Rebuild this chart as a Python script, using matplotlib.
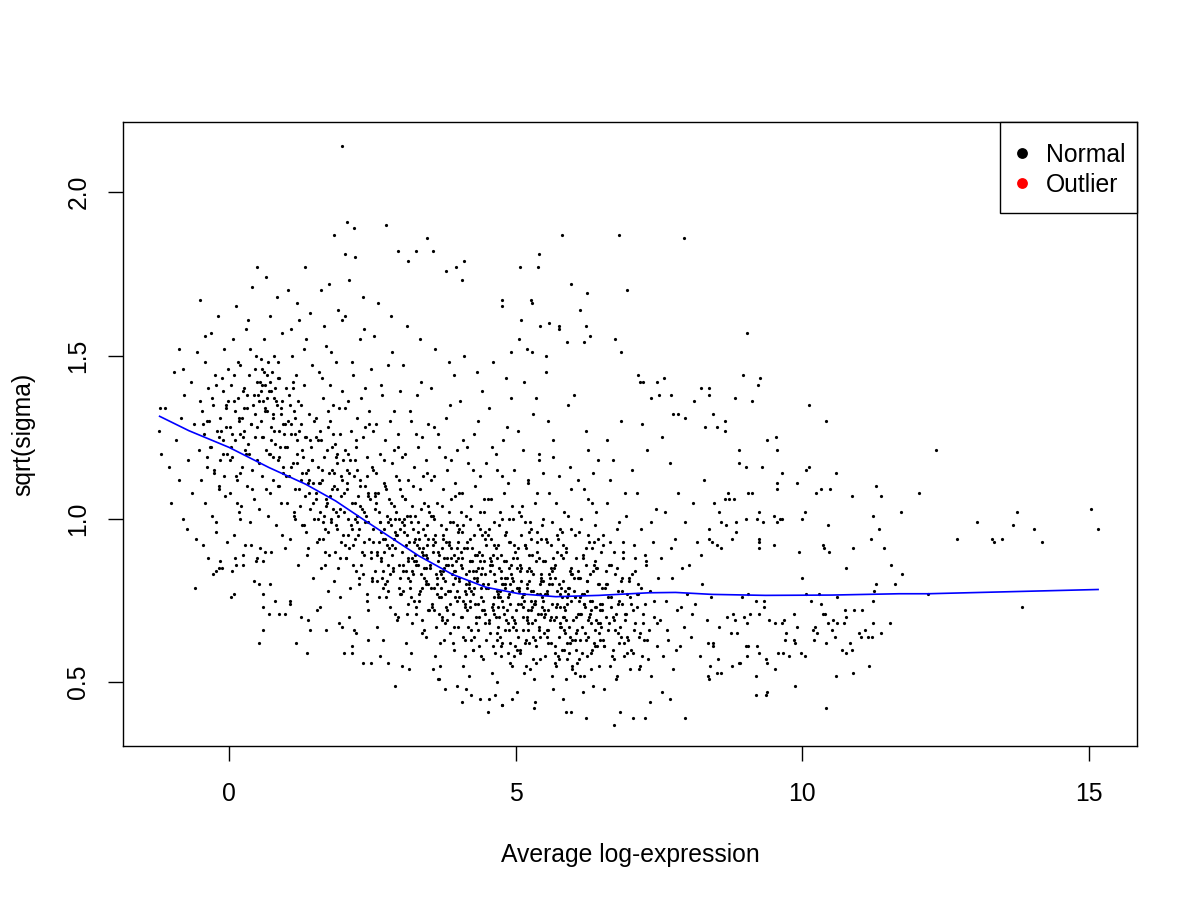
import matplotlib
matplotlib.use("Agg")
from matplotlib import pyplot as plt
from matplotlib.patches import Rectangle

plt.rcParams["font.family"] = ["Liberation Sans", "DejaVu Sans"]

# Dense part of the cloud (average log-expression, sqrt(sigma)), read strip by strip
cloud_x = [
    -1.22, -1.18, -1.12, -1.05, -1.01, -0.96, -0.93, -0.88, -0.84, -0.81,
    -0.78, -0.74, -0.71, -0.67, -0.64, -0.61, -0.58, -0.55, -0.53, -0.51,
    -0.49, -0.47, -0.46, -0.44, -0.42, -0.41, -0.39, -0.37, -0.36, -0.34,
    -0.33, -0.31, -0.29, -0.28, -0.26, -0.24, -0.23, -0.21, -0.19, -0.18,
    -0.16, -0.15, -0.13, -0.11, -0.10, -0.08, -0.07, -0.05, -0.04, -0.02,
    -0.45, -0.38, -0.30, -0.22, -0.17, -0.12, -0.09, -0.06, -0.03, -0.01,
    0.01, 0.02, 0.04, 0.05, 0.07, 0.08, 0.10, 0.11, 0.13, 0.14,
    0.16, 0.17, 0.19, 0.20, 0.22, 0.23, 0.25, 0.26, 0.28, 0.29,
    0.31, 0.32, 0.34, 0.35, 0.37, 0.38, 0.40, 0.41, 0.43, 0.44,
    0.46, 0.47, 0.49, 0.03, 0.09, 0.15, 0.21, 0.27, 0.33, 0.39,
    0.45, 0.06, 0.12, 0.18, 0.24, 0.30, 0.36, 0.42, 0.48, 0.20,
    0.51, 0.52, 0.54, 0.55, 0.57, 0.58, 0.60, 0.61, 0.63, 0.64,
    0.66, 0.67, 0.69, 0.70, 0.72, 0.73, 0.75, 0.76, 0.78, 0.79,
    0.81, 0.82, 0.84, 0.85, 0.87, 0.88, 0.90, 0.91, 0.93, 0.94,
    0.96, 0.97, 0.99, 0.53, 0.59, 0.65, 0.71, 0.77, 0.83, 0.89,
    0.95, 0.56, 0.62, 0.68, 0.74, 0.80, 0.86, 0.92, 0.98, 0.64,
    0.72, 0.85, 0.58, 0.93, 0.77,
    1.01, 1.02, 1.04, 1.05, 1.07, 1.08, 1.10, 1.11, 1.13, 1.14,
    1.16, 1.17, 1.19, 1.20, 1.22, 1.23, 1.25, 1.26, 1.28, 1.29,
    1.31, 1.32, 1.34, 1.35, 1.37, 1.38, 1.40, 1.41, 1.43, 1.44,
    1.46, 1.47, 1.49, 1.03, 1.09, 1.15, 1.21, 1.27, 1.33, 1.39,
    1.45, 1.06, 1.12, 1.18, 1.24, 1.30, 1.36, 1.42, 1.48, 1.15,
    1.26, 1.40, 1.08, 1.34, 1.19,
    1.51, 1.52, 1.54, 1.55, 1.57, 1.58, 1.60, 1.61, 1.63, 1.64,
    1.66, 1.67, 1.69, 1.70, 1.72, 1.73, 1.75, 1.76, 1.78, 1.79,
    1.81, 1.82, 1.84, 1.85, 1.87, 1.88, 1.90, 1.91, 1.93, 1.94,
    1.96, 1.97, 1.99, 1.53, 1.59, 1.65, 1.71, 1.77, 1.83, 1.89,
    1.95, 1.56, 1.62, 1.68, 1.74, 1.80, 1.86, 1.92, 1.98, 1.60,
    1.70, 1.85, 1.57, 1.93, 1.78, 1.64, 1.88, 1.52, 1.99, 1.73,
    2.01, 2.02, 2.04, 2.05, 2.07, 2.08, 2.10, 2.11, 2.13, 2.14,
    2.16, 2.17, 2.19, 2.20, 2.22, 2.23, 2.25, 2.26, 2.28, 2.29,
    2.31, 2.32, 2.34, 2.35, 2.37, 2.38, 2.40, 2.41, 2.43, 2.44,
    2.46, 2.47, 2.49, 2.03, 2.09, 2.15, 2.21, 2.27, 2.33, 2.39,
    2.45, 2.06, 2.12, 2.18, 2.24, 2.30, 2.36, 2.42, 2.48, 2.10,
    2.20, 2.35, 2.07, 2.43, 2.28, 2.14, 2.38, 2.02, 2.49, 2.23,
    2.51, 2.52, 2.54, 2.55, 2.57, 2.58, 2.60, 2.61, 2.63, 2.64,
    2.66, 2.67, 2.69, 2.70, 2.72, 2.73, 2.75, 2.76, 2.78, 2.79,
    2.81, 2.82, 2.84, 2.85, 2.87, 2.88, 2.90, 2.91, 2.93, 2.94,
    2.96, 2.97, 2.99, 2.53, 2.59, 2.65, 2.71, 2.77, 2.83, 2.89,
    2.95, 2.56, 2.62, 2.68, 2.74, 2.80, 2.86, 2.92, 2.98, 2.60,
    2.70, 2.85, 2.57, 2.93, 2.78, 2.64, 2.88, 2.52, 2.99, 2.73,
    2.55, 2.67, 2.81, 2.90, 2.97,
    3.01, 3.02, 3.04, 3.05, 3.07, 3.08, 3.10, 3.11, 3.13, 3.14,
    3.16, 3.17, 3.19, 3.20, 3.22, 3.23, 3.25, 3.26, 3.28, 3.29,
    3.31, 3.32, 3.34, 3.35, 3.37, 3.38, 3.40, 3.41, 3.43, 3.44,
    3.46, 3.47, 3.49, 3.03, 3.09, 3.15, 3.21, 3.27, 3.33, 3.39,
    3.45, 3.06, 3.12, 3.18, 3.24, 3.30, 3.36, 3.42, 3.48, 3.10,
    3.20, 3.35, 3.07, 3.43, 3.28, 3.14, 3.38, 3.02, 3.49, 3.23,
    3.05, 3.17, 3.31, 3.40, 3.47, 3.12, 3.26, 3.36, 3.21, 3.44,
    3.51, 3.52, 3.54, 3.55, 3.57, 3.58, 3.60, 3.61, 3.63, 3.64,
    3.66, 3.67, 3.69, 3.70, 3.72, 3.73, 3.75, 3.76, 3.78, 3.79,
    3.81, 3.82, 3.84, 3.85, 3.87, 3.88, 3.90, 3.91, 3.93, 3.94,
    3.96, 3.97, 3.99, 3.53, 3.59, 3.65, 3.71, 3.77, 3.83, 3.89,
    3.95, 3.56, 3.62, 3.68, 3.74, 3.80, 3.86, 3.92, 3.98, 3.60,
    3.70, 3.85, 3.57, 3.93, 3.78, 3.64, 3.88, 3.52, 3.99, 3.73,
    3.55, 3.67, 3.81, 3.90, 3.97, 3.62, 3.76, 3.86, 3.71, 3.94,
    3.58, 3.68, 3.83, 3.92, 3.75,
    4.01, 4.02, 4.04, 4.05, 4.07, 4.08, 4.10, 4.11, 4.13, 4.14,
    4.16, 4.17, 4.19, 4.20, 4.22, 4.23, 4.25, 4.26, 4.28, 4.29,
    4.31, 4.32, 4.34, 4.35, 4.37, 4.38, 4.40, 4.41, 4.43, 4.44,
    4.46, 4.47, 4.49, 4.03, 4.09, 4.15, 4.21, 4.27, 4.33, 4.39,
    4.45, 4.06, 4.12, 4.18, 4.24, 4.30, 4.36, 4.42, 4.48, 4.10,
    4.20, 4.35, 4.07, 4.43, 4.28, 4.14, 4.38, 4.02, 4.49, 4.23,
    4.05, 4.17, 4.31, 4.40, 4.47, 4.12, 4.26, 4.36, 4.21, 4.44,
    4.08, 4.18, 4.33, 4.42, 4.25,
    4.51, 4.52, 4.54, 4.55, 4.57, 4.58, 4.60, 4.61, 4.63, 4.64,
    4.66, 4.67, 4.69, 4.70, 4.72, 4.73, 4.75, 4.76, 4.78, 4.79,
    4.81, 4.82, 4.84, 4.85, 4.87, 4.88, 4.90, 4.91, 4.93, 4.94,
    4.96, 4.97, 4.99, 4.53, 4.59, 4.65, 4.71, 4.77, 4.83, 4.89,
    4.95, 4.56, 4.62, 4.68, 4.74, 4.80, 4.86, 4.92, 4.98, 4.60,
    4.70, 4.85, 4.57, 4.93, 4.78, 4.64, 4.88, 4.52, 4.99, 4.73,
    4.55, 4.67, 4.81, 4.90, 4.97, 4.62, 4.76, 4.86, 4.71, 4.94,
    4.58, 4.68, 4.83, 4.92, 4.75,
    5.01, 5.03, 5.04, 5.06, 5.07, 5.09, 5.10, 5.12, 5.13, 5.15,
    5.16, 5.18, 5.19, 5.21, 5.22, 5.24, 5.25, 5.27, 5.28, 5.30,
    5.31, 5.33, 5.34, 5.36, 5.37, 5.39, 5.40, 5.42, 5.43, 5.45,
    5.46, 5.48, 5.49, 5.02, 5.08, 5.14, 5.20, 5.26, 5.32, 5.38,
    5.44, 5.05, 5.11, 5.17, 5.23, 5.29, 5.35, 5.41, 5.47, 5.13,
    5.24, 5.36, 5.08, 5.42, 5.28, 5.19, 5.47, 5.03, 5.33, 5.11,
    5.06, 5.18, 5.31, 5.40, 5.49, 5.15, 5.26, 5.38, 5.21, 5.44,
    5.09, 5.27, 5.34, 5.46, 5.22,
    5.51, 5.52, 5.54, 5.55, 5.57, 5.58, 5.60, 5.61, 5.63, 5.64,
    5.66, 5.67, 5.69, 5.70, 5.72, 5.73, 5.75, 5.76, 5.78, 5.79,
    5.81, 5.82, 5.84, 5.85, 5.87, 5.88, 5.90, 5.91, 5.93, 5.94,
    5.96, 5.97, 5.99, 5.53, 5.59, 5.65, 5.71, 5.77, 5.83, 5.89,
    5.95, 5.56, 5.62, 5.68, 5.74, 5.80, 5.86, 5.92, 5.98, 5.64,
    5.72, 5.85, 5.57, 5.93, 5.78, 5.66, 5.88, 5.52, 5.99, 5.81,
    5.55, 5.69, 5.83, 5.90, 5.97, 5.61, 5.75, 5.86, 5.70, 5.94,
    6.01, 6.03, 6.04, 6.06, 6.08, 6.09, 6.11, 6.13, 6.14, 6.16,
    6.18, 6.19, 6.21, 6.23, 6.24, 6.26, 6.28, 6.29, 6.31, 6.33,
    6.34, 6.36, 6.38, 6.39, 6.41, 6.43, 6.44, 6.46, 6.48, 6.49,
    6.02, 6.07, 6.12, 6.17, 6.22, 6.27, 6.32, 6.37, 6.42, 6.47,
    6.05, 6.10, 6.15, 6.20, 6.25, 6.30, 6.35, 6.40, 6.45, 6.50,
    6.12, 6.26, 6.38, 6.04, 6.19, 6.31, 6.44, 6.08, 6.23, 6.35,
    6.51, 6.53, 6.55, 6.57, 6.59, 6.61, 6.63, 6.65, 6.67, 6.69,
    6.71, 6.73, 6.75, 6.77, 6.79, 6.81, 6.83, 6.85, 6.87, 6.89,
    6.91, 6.93, 6.95, 6.97, 6.99, 6.52, 6.58, 6.64, 6.70, 6.76,
    6.82, 6.88, 6.94, 6.54, 6.60, 6.66, 6.72, 6.78, 6.84, 6.90,
    6.96, 6.56, 6.68, 6.80, 6.86,
    7.01, 7.04, 7.06, 7.09, 7.12, 7.14, 7.17, 7.19, 7.22, 7.24,
    7.27, 7.29, 7.32, 7.34, 7.37, 7.39, 7.42, 7.44, 7.47, 7.49,
    7.03, 7.11, 7.16, 7.21, 7.26, 7.31, 7.36, 7.41, 7.46, 7.08,
    7.51, 7.54, 7.57, 7.60, 7.63, 7.66, 7.69, 7.72, 7.75, 7.78,
    7.81, 7.84, 7.87, 7.90, 7.93, 7.96, 7.99, 7.56, 7.64, 7.71,
    7.79, 7.88,
    8.02, 8.06, 8.10, 8.13, 8.17, 8.21, 8.25, 8.29, 8.33, 8.37,
    8.41, 8.45, 8.08, 8.24, 8.39,
]
cloud_y = [
    1.27, 1.20, 1.34, 1.16, 1.05, 1.45, 1.24, 1.12, 1.31, 1.00,
    1.38, 0.97, 1.18, 1.42, 1.08, 1.29, 0.94, 1.51, 1.21, 1.36,
    1.12, 1.33, 0.92, 1.26, 1.48, 1.05, 1.19, 1.40, 0.88, 1.30,
    1.22, 1.57, 1.01, 1.35, 1.14, 1.44, 0.96, 1.27, 1.62, 1.09,
    1.31, 1.18, 0.85, 1.39, 1.24, 1.52, 1.07, 1.34, 1.20, 1.46,
    1.29, 1.16, 1.37, 0.99, 1.25, 1.43, 1.13, 1.28, 0.93, 1.36,
    1.28, 1.08, 1.41, 1.19, 1.55, 0.95, 1.33, 1.24, 1.65, 1.12,
    1.37, 1.02, 1.26, 1.47, 1.16, 1.31, 0.89, 1.40, 1.21, 1.58,
    1.10, 1.34, 1.23, 1.44, 0.99, 1.29, 1.71, 1.15, 1.38, 1.06,
    1.32, 1.50, 1.18, 1.22, 1.36, 1.48, 1.04, 1.27, 1.61, 0.92,
    1.25, 0.84, 1.13, 1.30, 1.39, 1.20, 1.52, 1.35, 1.42, 1.00,
    1.38, 1.17, 1.42, 1.30, 1.46, 1.25, 1.36, 1.55, 1.41, 1.09,
    1.33, 1.44, 1.20, 1.39, 1.62, 1.28, 1.45, 1.12, 1.37, 1.50,
    1.23, 0.98, 1.35, 1.18, 1.43, 1.27, 1.05, 1.32, 1.57, 1.14,
    1.26, 0.91, 1.40, 1.03, 0.87, 1.21, 1.08, 1.31, 1.68, 1.22,
    1.16, 1.49, 1.34, 1.01, 1.24, 1.40, 1.10, 0.95, 1.29, 1.74,
    0.80, 1.48, 1.13, 1.36, 1.19,
    1.22, 1.05, 1.38, 1.13, 0.94, 1.29, 1.50, 1.17, 1.01, 1.33,
    1.09, 1.44, 1.20, 0.86, 1.27, 1.61, 1.12, 1.35, 0.98, 1.19,
    1.41, 1.07, 1.25, 1.55, 1.15, 0.91, 1.32, 1.03, 1.22, 1.47,
    1.11, 0.82, 1.30, 1.70, 1.26, 1.00, 1.36, 1.14, 1.77, 1.08,
    1.18, 0.75, 1.42, 1.24, 1.04, 1.52, 0.89, 1.63, 1.00, 1.31,
    0.70, 1.12, 1.58, 0.96, 1.66,
    1.08, 1.31, 0.93, 1.16, 1.45, 1.02, 1.24, 0.85, 1.12, 1.37,
    1.19, 0.97, 1.53, 1.06, 1.28, 0.78, 1.14, 1.41, 0.99, 1.22,
    1.03, 1.35, 1.10, 0.90, 1.48, 1.17, 1.64, 1.01, 1.26, 0.88,
    1.13, 1.39, 0.95, 0.72, 1.27, 1.59, 1.05, 1.30, 0.81, 1.20,
    1.07, 1.00, 1.43, 0.86, 1.72, 1.15, 0.98, 1.34, 1.61, 1.70,
    0.66, 1.23, 1.11, 0.76, 1.51, 0.94, 1.09, 1.25, 1.18, 1.33,
    1.02, 1.21, 0.88, 1.09, 1.36, 0.95, 1.14, 0.79, 1.27, 1.05,
    0.92, 1.44, 1.00, 1.18, 0.84, 1.31, 1.07, 0.97, 1.55, 1.12,
    0.86, 1.03, 1.25, 0.93, 1.40, 1.10, 0.75, 1.19, 0.99, 1.33,
    1.06, 0.90, 1.16, 1.62, 0.70, 1.48, 1.24, 0.82, 1.68, 1.01,
    1.29, 1.11, 0.98, 0.66, 1.15, 1.37, 0.89, 1.08, 1.46, 1.73,
    0.94, 1.58, 1.20, 0.72, 1.04, 0.61, 1.28, 1.34, 0.81, 0.99,
    0.97, 1.15, 0.84, 1.03, 1.29, 0.90, 1.08, 0.76, 1.20, 0.99,
    0.87, 1.38, 0.94, 1.11, 0.80, 1.24, 1.01, 0.92, 1.47, 1.06,
    0.83, 0.98, 1.17, 0.89, 1.33, 1.04, 0.71, 1.13, 0.95, 1.26,
    1.00, 0.86, 1.09, 1.56, 0.67, 1.41, 1.18, 0.78, 1.62, 0.96,
    1.22, 1.05, 0.93, 0.63, 1.09, 1.30, 0.85, 1.02, 1.39, 1.66,
    0.90, 1.51, 1.14, 0.69, 0.99, 0.58, 1.21, 1.27, 0.77, 0.94,
    1.07, 0.82, 1.00, 0.91, 1.12,
    0.90, 1.07, 0.78, 0.96, 1.20, 0.84, 1.01, 0.71, 1.12, 0.93,
    0.81, 1.30, 0.88, 1.04, 0.75, 1.16, 0.94, 0.86, 1.38, 0.99,
    0.77, 0.91, 1.09, 0.83, 1.25, 0.97, 0.66, 1.05, 0.89, 1.18,
    0.92, 0.80, 1.02, 1.47, 0.62, 1.33, 1.10, 0.73, 1.55, 0.89,
    1.14, 0.98, 0.87, 0.59, 1.01, 1.22, 0.79, 0.95, 1.29, 1.59,
    0.84, 1.42, 1.06, 0.64, 0.92, 0.54, 1.13, 1.19, 0.72, 0.87,
    1.00, 0.76, 0.94, 0.85, 1.04, 0.82, 1.26, 0.69, 0.97, 0.81,
    0.85, 1.01, 0.73, 0.90, 1.13, 0.79, 0.95, 0.67, 1.05, 0.87,
    0.76, 1.22, 0.83, 0.98, 0.70, 1.09, 0.88, 0.81, 1.31, 0.93,
    0.72, 0.86, 1.02, 0.78, 1.18, 0.91, 0.62, 0.99, 0.84, 1.11,
    0.87, 0.75, 0.96, 1.40, 0.58, 1.26, 1.04, 0.68, 1.48, 0.83,
    1.07, 0.92, 0.82, 0.55, 0.95, 1.15, 0.74, 0.89, 1.21, 1.52,
    0.79, 1.35, 1.00, 0.60, 0.86, 0.51, 1.06, 1.12, 0.67, 0.82,
    0.94, 0.71, 0.88, 0.80, 0.98, 0.77, 1.19, 0.65, 0.91, 0.76,
    1.28, 0.84, 0.93, 1.44, 0.63,
    0.81, 0.97, 0.70, 0.86, 1.08, 0.75, 0.91, 0.63, 1.01, 0.83,
    0.72, 1.17, 0.79, 0.94, 0.66, 1.04, 0.84, 0.77, 1.26, 0.89,
    0.68, 0.82, 0.98, 0.74, 1.13, 0.87, 0.58, 0.95, 0.80, 1.06,
    0.83, 0.71, 0.92, 1.36, 0.55, 1.22, 1.00, 0.64, 1.45, 0.79,
    1.02, 0.88, 0.78, 0.52, 0.91, 1.10, 0.70, 0.85, 1.17, 1.50,
    0.75, 1.30, 0.96, 0.57, 0.82, 0.48, 1.02, 1.08, 0.63, 0.78,
    0.90, 0.67, 0.84, 0.76, 0.94, 0.73, 1.15, 0.61, 0.87, 0.72,
    1.24, 0.80, 0.89, 1.39, 0.60,
    0.79, 0.95, 0.68, 0.84, 1.06, 0.73, 0.89, 0.61, 0.99, 0.81,
    0.70, 1.15, 0.77, 0.92, 0.64, 1.02, 0.82, 0.75, 1.24, 0.87,
    0.66, 0.80, 0.96, 0.72, 1.11, 0.85, 0.56, 0.93, 0.78, 1.04,
    0.81, 0.69, 0.90, 1.34, 0.53, 1.20, 0.98, 0.62, 1.43, 0.77,
    1.00, 0.86, 0.76, 0.50, 0.89, 1.08, 0.68, 0.83, 1.15, 1.48,
    0.73, 1.28, 0.94, 0.55, 0.80, 0.46, 1.00, 1.06, 0.61, 0.76,
    0.88, 0.65, 0.82, 0.74, 0.92, 0.71, 1.13, 0.59, 0.85, 0.70,
    1.22, 0.78, 0.87, 1.37, 0.58,
    0.66, 0.88, 0.74, 1.02, 0.59, 0.81, 0.95, 0.70, 1.21, 0.77,
    0.92, 0.63, 0.79, 1.11, 0.72, 0.85, 0.54, 0.97, 0.68, 1.32,
    0.83, 0.75, 1.05, 0.61, 0.90, 0.71, 1.18, 0.80, 0.57, 0.94,
    0.73, 1.00, 0.65, 0.47, 0.86, 1.42, 0.69, 0.78, 0.51, 1.08,
    0.82, 1.27, 0.76, 0.99, 0.62, 0.89, 1.37, 0.67, 1.14, 0.73,
    0.96, 0.56, 0.84, 0.77, 1.51, 0.70, 0.87, 0.60, 0.74, 1.04,
    0.79, 0.91, 0.64, 1.20, 0.72, 0.53, 0.84, 0.93, 0.66, 0.81,
    1.01, 0.75, 0.44, 0.98, 1.12,
    0.71, 0.58, 0.93, 0.77, 0.66, 1.08, 0.82, 0.62, 0.99, 0.74,
    1.24, 0.69, 0.86, 0.55, 0.78, 0.95, 0.64, 1.13, 0.73, 0.89,
    0.60, 0.81, 1.02, 0.70, 0.51, 0.91, 0.76, 1.35, 0.67, 0.84,
    0.75, 0.97, 0.63, 1.45, 0.80, 0.48, 1.05, 0.68, 0.88, 0.57,
    1.16, 0.72, 0.85, 0.61, 0.94, 0.79, 0.65, 1.01, 0.83, 0.52,
    0.90, 0.73, 1.30, 0.59, 0.77, 1.19, 0.69, 0.87, 0.54, 0.96,
    0.66, 0.82, 0.45, 0.74, 1.09, 0.92, 0.57, 0.78, 0.70, 0.62,
    0.78, 0.63, 0.95, 0.70, 1.12, 0.84, 0.57, 0.76, 1.00, 0.67,
    0.88, 0.52, 0.73, 1.27, 0.81, 0.64, 0.93, 0.71, 0.59, 1.05,
    0.75, 0.86, 0.61, 0.98, 0.69, 0.80, 1.18, 0.55, 0.74, 0.90,
    1.38, 0.66, 0.82, 0.47, 0.91, 1.06, 0.72, 0.62, 0.85, 0.68,
    0.60, 0.96, 0.77, 1.09, 0.58, 0.83, 0.49, 1.02, 0.65, 0.79,
    0.71, 1.21, 0.87, 0.53, 0.74, 0.68, 0.94, 0.82, 0.63, 1.14,
    0.72, 0.92, 0.61, 0.80, 1.05, 0.66, 0.86, 0.55, 0.76, 1.18,
    0.69, 0.83, 0.51, 0.97, 0.74, 0.62, 1.30, 0.78, 0.88, 0.58,
    0.71, 1.01, 0.64, 0.82, 0.54, 0.95, 0.70, 1.12, 0.60, 0.85,
    0.67, 0.93, 0.77, 0.48, 1.24, 0.73, 0.90, 0.65, 0.81, 1.08,
    0.63, 0.79, 0.58, 0.99, 0.74,
    0.74, 0.59, 0.92, 0.68, 1.08, 0.80, 0.55, 0.97, 0.71, 0.63,
    0.86, 1.21, 0.66, 0.78, 0.52, 0.93, 0.70, 1.03, 0.61, 0.82,
    1.15, 0.77, 0.64, 1.29, 0.89, 0.57, 0.99, 0.75, 0.68, 0.84,
    0.69, 0.88, 0.58, 1.02, 0.75, 0.63, 1.17, 0.82, 0.54, 0.94,
    0.72, 1.08, 0.61, 0.85, 0.67, 0.99, 0.77, 1.25, 0.66, 0.91,
    0.60, 0.73,
    0.86, 0.64, 1.05, 0.74, 0.93, 0.58, 0.80, 1.12, 0.69, 0.97,
    0.76, 0.62, 0.71, 0.89, 0.55,
]

# Darkest band of the cloud, close to the trend
core_x = [
    2.52, 2.58, 2.61, 2.66, 2.71, 2.74, 2.79, 2.83, 2.86, 2.92,
    2.96, 3.01, 3.04, 3.09, 3.13, 3.16, 3.21, 3.24, 3.29, 3.33,
    3.37, 3.41, 3.45, 3.48, 2.55, 2.63, 2.69, 2.77, 2.88, 2.94,
    3.03, 3.11, 3.19, 3.27, 3.35, 3.43, 2.59, 2.73, 2.98, 3.22,
    3.32, 3.46, 2.65, 2.81, 3.07, 3.15, 3.39, 2.90, 3.26, 3.44,
    2.68, 2.84, 3.00, 3.18, 3.30, 3.47, 2.75, 3.12, 3.36, 2.99,
    3.51, 3.54, 3.59, 3.63, 3.66, 3.71, 3.74, 3.78, 3.82, 3.87,
    3.91, 3.94, 3.98, 4.02, 4.06, 4.09, 4.13, 4.16, 4.21, 4.24,
    4.28, 4.31, 4.36, 4.39, 4.43, 4.47, 3.56, 3.68, 3.76, 3.84,
    3.92, 4.00, 4.08, 4.18, 4.26, 4.34, 4.42, 4.49, 3.61, 3.73,
    3.81, 3.89, 3.97, 4.04, 4.11, 4.19, 4.27, 4.35, 4.45, 3.53,
    3.65, 3.79, 3.95, 4.07, 4.15, 4.23, 4.33, 4.41, 3.70, 3.86,
    4.01, 4.14, 4.30, 4.46, 3.58, 3.99, 4.20, 4.38, 3.75, 4.12,
    4.51, 4.54, 4.58, 4.61, 4.65, 4.68, 4.72, 4.75, 4.79, 4.82,
    4.86, 4.89, 4.93, 4.96, 5.00, 5.03, 5.07, 5.10, 5.14, 5.17,
    5.21, 5.24, 5.28, 5.31, 5.35, 5.38, 5.42, 5.45, 5.49, 4.53,
    4.60, 4.67, 4.74, 4.81, 4.88, 4.95, 5.02, 5.09, 5.16, 5.23,
    5.30, 5.37, 5.44, 4.56, 4.63, 4.70, 4.77, 4.84, 4.91, 4.98,
    5.05, 5.12, 5.19, 5.26, 5.33, 5.40, 5.47, 4.57, 4.71, 4.85,
    4.99, 5.13, 5.27, 5.41, 4.64, 4.78, 4.92, 5.06, 5.20, 5.34,
    5.48, 4.62, 4.90, 5.18, 5.46, 4.76, 5.04, 5.32, 4.69, 5.25,
    5.51, 5.55, 5.58, 5.62, 5.65, 5.69, 5.72, 5.76, 5.79, 5.83,
    5.86, 5.90, 5.93, 5.97, 6.00, 6.04, 6.07, 6.11, 6.14, 6.18,
    6.21, 6.25, 6.28, 6.32, 6.35, 6.39, 6.42, 6.46, 6.49, 5.53,
    5.60, 5.67, 5.74, 5.81, 5.88, 5.95, 6.02, 6.09, 6.16, 6.23,
    6.30, 6.37, 6.44, 5.57, 5.64, 5.71, 5.78, 5.85, 5.92, 5.99,
    6.06, 6.13, 6.20, 6.27, 6.34, 6.41, 6.48, 5.63, 5.77, 5.91,
    6.05, 6.19, 6.33, 6.47, 5.68, 5.82, 5.96, 6.10, 6.24, 6.38,
    5.54, 5.84, 6.12, 6.40, 6.26,
    6.51, 6.55, 6.59, 6.63, 6.67, 6.71, 6.75, 6.79, 6.83, 6.87,
    6.91, 6.95, 6.99, 7.03, 7.07, 7.11, 7.15, 7.19, 7.23, 7.27,
    6.53, 6.61, 6.69, 6.77, 6.85, 6.93, 7.01, 7.09, 7.17, 7.25,
    6.57, 6.73, 6.89, 7.05, 7.21, 6.65, 6.81, 6.97, 7.13, 7.29,
    -0.38, -0.31, -0.22, -0.14, -0.06, 0.02, 0.09, 0.17, 0.24, 0.31,
    0.38, 0.45, 0.52, 0.58, 0.63, 0.68, 0.74, 0.79, 0.85, 0.91,
    0.97, 1.03, 1.09, 1.16, 1.22, 1.28, 1.35, 1.41, 1.47, -0.27,
    -0.10, 0.06, 0.20, 0.35, 0.49, 0.56, 0.61, 0.66, 0.71, 0.76,
    0.82, 0.88, 0.94, 1.00, 1.06, 1.13, 1.19, 1.25, 1.31, 1.38,
    1.44, 0.14, 0.27, 0.41, 0.59, 0.72, 0.87, 1.11, 1.33, -0.18,
    1.52, 1.57, 1.62, 1.66, 1.71, 1.75, 1.80, 1.84, 1.89, 1.93,
    1.98, 2.02, 2.07, 2.11, 2.16, 2.20, 2.25, 2.29, 2.34, 2.38,
    2.43, 2.47, 1.55, 1.64, 1.73, 1.82, 1.91, 2.00, 2.09, 2.18,
    2.27, 2.36, 2.45, 1.59, 1.69, 1.78, 1.87, 1.96, 2.05, 2.14,
    2.23, 2.32, 2.41, 2.49, 1.68, 1.86, 2.04, 2.22, 2.40, 1.77,
]
core_y = [
    0.93, 0.81, 1.02, 0.88, 0.97, 0.76, 0.91, 1.05, 0.84, 0.95,
    0.79, 0.99, 0.86, 0.92, 0.74, 1.01, 0.83, 0.89, 0.96, 0.78,
    0.90, 0.82, 0.98, 0.72, 1.08, 0.99, 0.79, 0.86, 0.94, 0.70,
    0.84, 0.95, 0.68, 0.87, 1.03, 0.80, 0.89, 1.10, 0.82, 0.93,
    0.75, 0.88, 0.96, 0.73, 1.06, 0.79, 0.91, 1.00, 0.71, 0.85,
    0.84, 0.92, 0.77, 0.99, 0.86, 0.94, 0.81, 0.88, 0.65, 0.97,
    0.86, 0.74, 0.93, 0.80, 0.89, 0.69, 0.84, 0.97, 0.78, 0.88,
    0.71, 0.82, 0.91, 0.76, 0.85, 0.64, 0.80, 0.93, 0.73, 0.87,
    0.79, 0.70, 0.90, 0.83, 0.75, 0.96, 1.01, 0.62, 0.77, 0.92,
    0.67, 0.88, 0.98, 0.81, 0.60, 0.85, 0.72, 0.79, 0.83, 0.94,
    0.69, 0.86, 0.78, 1.02, 0.74, 0.84, 0.95, 0.66, 0.87, 0.79,
    0.90, 0.73, 0.84, 0.70, 0.91, 0.63, 0.81, 0.89, 0.76, 0.99,
    0.82, 0.77, 0.74, 0.68, 0.72, 0.93, 0.87, 0.97, 0.85, 0.58,
    0.80, 0.69, 0.86, 0.74, 0.91, 0.63, 0.78, 0.84, 0.71, 0.95,
    0.76, 0.66, 0.82, 0.88, 0.72, 0.79, 0.60, 0.85, 0.75, 0.92,
    0.68, 0.81, 0.73, 0.57, 0.87, 0.77, 0.64, 0.83, 0.70, 0.97,
    0.72, 0.88, 0.61, 0.79, 0.93, 0.67, 0.85, 0.74, 0.62, 0.89,
    0.78, 0.96, 0.71, 0.65, 0.83, 0.76, 1.00, 0.69, 0.80, 0.58,
    0.91, 0.66, 0.80, 0.72, 0.63, 0.88, 0.75, 0.87, 0.70, 0.82,
    0.68, 0.77, 0.94, 0.66, 0.59, 0.73, 0.86, 0.78, 0.84, 0.69,
    0.81, 0.92, 0.62, 0.55, 0.76, 0.80, 0.64, 0.74, 0.67, 0.99,
    0.77, 0.64, 0.83, 0.70, 0.88, 0.59, 0.74, 0.80, 0.67, 0.92,
    0.72, 0.62, 0.79, 0.85, 0.69, 0.76, 0.56, 0.82, 0.71, 0.89,
    0.65, 0.78, 0.70, 0.54, 0.84, 0.73, 0.61, 0.80, 0.67, 0.94,
    0.69, 0.85, 0.58, 0.76, 0.90, 0.64, 0.82, 0.71, 0.59, 0.86,
    0.75, 0.93, 0.68, 0.62, 0.80, 0.73, 0.97, 0.66, 0.77, 0.55,
    0.88, 0.63, 0.77, 0.69, 0.60, 0.85, 0.72, 0.84, 0.67, 0.79,
    0.65, 0.74, 0.91, 0.63, 0.56, 0.70, 0.83, 0.75, 0.81, 0.66,
    0.78, 0.60, 0.52, 0.73, 0.95,
    0.74, 0.61, 0.80, 0.68, 0.86, 0.57, 0.71, 0.78, 0.64, 0.90,
    0.69, 0.59, 0.76, 0.83, 0.66, 0.73, 0.54, 0.79, 0.68, 0.87,
    0.63, 0.76, 0.70, 0.52, 0.82, 0.71, 0.60, 0.88, 0.65, 0.74,
    0.84, 0.66, 0.62, 0.72, 0.58, 0.93, 0.75, 0.81, 0.77, 0.63,
    1.30, 1.22, 1.41, 1.27, 1.35, 1.18, 1.44, 1.31, 1.25, 1.38,
    1.29, 1.46, 1.36, 1.41, 1.33, 1.48, 1.39, 1.27, 1.43, 1.34,
    1.22, 1.30, 1.16, 1.26, 1.09, 1.21, 1.14, 1.24, 1.05, 1.15,
    1.20, 1.26, 1.14, 1.20, 1.28, 1.39, 1.45, 1.37, 1.42, 1.32,
    1.36, 1.19, 1.29, 1.13, 1.35, 1.02, 1.17, 1.29, 0.98, 1.11,
    1.18, 1.05, 1.34, 1.09, 1.25, 1.20, 1.10, 1.40, 1.25, 1.10,
    1.06, 0.94, 1.15, 1.01, 1.21, 0.89, 1.09, 1.14, 0.97, 1.03,
    1.12, 0.92, 1.00, 1.18, 0.86, 1.05, 0.95, 1.10, 0.83, 0.99,
    1.07, 0.88, 1.24, 0.99, 0.96, 1.26, 0.85, 1.08, 0.91, 1.13,
    0.80, 1.02, 0.94, 1.11, 1.04, 1.00, 1.19, 0.93, 1.15, 0.97,
    1.01, 0.90, 1.13, 0.82, 0.90, 1.02, 0.88, 1.22, 0.77, 1.07,
]

# Sparse points: upper edge, right-hand tail and lower edge
tail_x = [
    1.98, 2.06, 2.18, 2.74, 1.84, 3.46, 3.55, 3.27, 2.94, 3.12,
    2.03, 2.20, 0.48, -0.51, -0.87, -1.21, -0.80, -0.42, 4.10, 3.96,
    3.79, 4.07, 5.81, 6.81, 7.93, 5.40, 5.39, 5.08, 5.97, 6.94,
    6.25, 6.13, 4.77, 4.76, 5.26, 5.29, 9.03, 8.96, 9.26, 9.22,
    10.12, 10.41, 8.83, 9.13, 8.23, 8.37, 8.37, 8.12, 8.44, 8.66,
    8.52, 8.30, 8.66, 9.39, 9.55, 6.74, 6.83, 5.90, 6.23, 6.30,
    6.20, 5.76, 5.76, 5.59, 5.43, 5.10, 5.06, 5.53, 5.20, 4.92,
    7.13, 7.17, 7.23, 7.46, 7.58, 7.71, 7.50, 7.37, 7.95, 7.74,
    7.83,
    12.34, 11.29, 11.37, 12.04, 11.24, 11.73, 11.34, 11.20, 11.43, 11.55,
    11.74, 11.28, 11.26, 11.61, 11.24, 11.05, 12.19, 11.23, 11.53, 11.38,
    10.99, 11.09, 11.03, 11.15, 11.22, 11.17, 12.70, 13.04, 13.31, 13.34,
    13.49, 13.75, 13.67, 14.05, 14.19, 13.84, 15.04, 15.16,
    8.90, 9.56, 8.89, 9.02, 9.30, 10.12, 10.07, 9.65, 10.58, 9.90,
    9.56, 9.56, 10.32, 10.48, 10.24, 10.87, 9.05, 9.13, 8.70, 8.66,
    8.73, 8.81, 8.46, 8.55, 10.05, 10.00, 9.24, 9.51, 9.61, 9.65,
    9.56, 9.02, 9.21, 9.32, 8.85, 8.59, 8.67, 10.45, 8.85, 8.77,
    8.38, 8.52, 8.59, 8.43, 9.24, 9.25, 9.25, 9.51, 9.94, 10.37,
    10.38, 10.47, 10.88, 10.76, 10.00, 10.29, 10.07, 10.16, 10.61, 10.33,
    10.36, 10.40, 10.74, 10.91, 10.77, 10.54, 10.45, 10.61, 10.72, 10.52,
    10.57, 10.19, 10.22, 10.26, 10.20, 10.42, 10.84, 10.69, 10.77, 10.86,
    10.88, 10.58, 10.42, 9.88, 9.20, 9.20, 9.36, 9.38, 9.52, 8.91,
    9.36, 9.38, 9.66, 9.76, 9.57, 9.70, 9.86, 9.87, 9.98, 10.05,
    9.69, 9.85, 9.91, 9.72, 9.53, 9.65, 9.42, 9.24, 9.34, 9.09,
    8.98, 9.03, 8.82, 8.87, 8.76, 9.02, 9.06, 9.21, 9.24, 8.90,
    9.04, 8.78, 8.58, 8.51, 8.37, 8.36, 8.53, 8.44, 8.35, 8.55,
    8.68, 8.79, 9.20, 9.34, 9.06, 8.95,
    -0.60, 0.03, 0.09, 0.52, 0.59, 1.36, 1.17, 1.42, 0.70, 0.87,
    0.97, 0.59, 0.81, 1.07, 0.60, 0.43, 0.52, -0.28, -0.23, -0.17,
    -0.16, 0.10, 0.13, 0.24, 0.28, 0.47, 0.48, 0.54, 0.63, 0.73,
    1.37, 1.58, 1.92, 1.97, 2.15, 2.01, 2.22, 2.34, 2.48, 2.42,
    2.77, 2.90, 3.02, 3.55, 3.67, 3.77, 3.97, 4.07, 4.23, 4.37,
    4.52, 4.76, 4.54, 4.94, 6.72, 6.23, 7.04, 7.26, 7.95, 5.96,
    5.87, 5.32, 4.76, 6.82, 7.34, 7.70, 7.55,
]
tail_y = [
    2.14, 1.91, 1.89, 1.90, 1.87, 1.86, 1.82, 1.82, 1.82, 1.79,
    1.81, 1.80, 1.77, 1.67, 1.52, 1.34, 1.46, 1.56, 1.79, 1.77,
    1.76, 1.73, 1.87, 1.87, 1.86, 1.81, 1.77, 1.77, 1.72, 1.70,
    1.69, 1.64, 1.67, 1.65, 1.67, 1.66, 1.57, 1.44, 1.43, 1.41,
    1.35, 1.30, 1.37, 1.36, 1.40, 1.40, 1.38, 1.36, 1.32, 1.30,
    1.28, 1.28, 1.27, 1.24, 1.25, 1.55, 1.51, 1.54, 1.59, 1.56,
    1.54, 1.59, 1.58, 1.60, 1.59, 1.61, 1.55, 1.50, 1.52, 1.51,
    1.44, 1.42, 1.42, 1.42, 1.43, 1.38, 1.38, 1.37, 1.31, 1.32,
    1.32,
    1.21, 1.10, 1.07, 1.08, 1.01, 1.02, 0.97, 0.94, 0.91, 0.86,
    0.83, 0.80, 0.78, 0.80, 0.75, 0.72, 0.77, 0.68, 0.68, 0.65,
    0.65, 0.66, 0.64, 0.64, 0.64, 0.55, 0.94, 0.99, 0.94, 0.93,
    0.94, 1.02, 0.98, 0.97, 0.93, 0.73, 1.03, 0.97,
    1.21, 1.21, 1.17, 1.16, 1.16, 1.16, 1.15, 1.14, 1.14, 1.11,
    1.11, 1.09, 1.09, 1.09, 1.08, 1.07, 1.08, 1.08, 1.08, 1.06,
    1.06, 1.06, 1.05, 1.02, 1.02, 1.00, 1.02, 1.01, 1.00, 1.00,
    0.99, 1.00, 1.00, 0.99, 0.99, 0.99, 0.98, 0.98, 0.96, 0.94,
    0.94, 0.92, 0.91, 0.93, 0.94, 0.93, 0.91, 0.92, 0.90, 0.92,
    0.91, 0.90, 0.91, 0.85, 0.82, 0.77, 0.77, 0.75, 0.76, 0.74,
    0.71, 0.71, 0.72, 0.72, 0.70, 0.69, 0.68, 0.68, 0.68, 0.66,
    0.64, 0.66, 0.67, 0.65, 0.63, 0.62, 0.62, 0.60, 0.59, 0.60,
    0.53, 0.52, 0.42, 0.49, 0.52, 0.46, 0.46, 0.47, 0.54, 0.56,
    0.57, 0.56, 0.59, 0.58, 0.59, 0.63, 0.63, 0.62, 0.59, 0.58,
    0.69, 0.71, 0.67, 0.65, 0.68, 0.68, 0.69, 0.71, 0.73, 0.71,
    0.70, 0.68, 0.69, 0.65, 0.65, 0.61, 0.61, 0.61, 0.59, 0.56,
    0.58, 0.55, 0.53, 0.53, 0.51, 0.52, 0.57, 0.61, 0.62, 0.67,
    0.70, 0.71, 0.75, 0.75, 0.77, 0.76,
    0.79, 0.76, 0.77, 0.62, 0.66, 0.59, 0.62, 0.66, 0.71, 0.71,
    0.71, 0.73, 0.75, 0.74, 0.77, 0.81, 0.80, 0.83, 0.84, 0.85,
    0.87, 0.88, 0.86, 0.86, 0.92, 0.87, 0.88, 0.91, 0.90, 0.90,
    0.69, 0.73, 0.68, 0.67, 0.59, 0.59, 0.65, 0.56, 0.56, 0.63,
    0.56, 0.49, 0.55, 0.54, 0.51, 0.48, 0.49, 0.44, 0.46, 0.45,
    0.41, 0.43, 0.45, 0.45, 0.37, 0.39, 0.39, 0.39, 0.39, 0.41,
    0.41, 0.42, 0.43, 0.41, 0.44, 0.45, 0.47,
]

# Fitted mean-variance trend
trend_x = [-1.21, -0.70, 0.00, 0.70, 1.34, 1.86, 2.38, 2.91, 3.31, 3.90, 4.48,
           5.06, 5.70, 6.45, 7.33, 7.79, 8.43, 9.36, 10.52, 11.69, 12.19, 15.16]
trend_y = [1.314, 1.270, 1.219, 1.157, 1.106, 1.055, 0.994, 0.933, 0.887, 0.830, 0.791,
           0.771, 0.762, 0.766, 0.774, 0.775, 0.769, 0.766, 0.767, 0.771, 0.771, 0.784]

legend_labels = ["Normal", "Outlier"]
legend_colors = ["black", "red"]


def draw_legend(ax):
    # R-style legend box in the top right corner (axes coordinates)
    box = Rectangle((0.8646, 0.8548), 0.1354, 0.1452, transform=ax.transAxes,
                    facecolor="white", edgecolor="black", lw=1.0, zorder=5, clip_on=False)
    ax.add_patch(box)
    for i, (label, color) in enumerate(zip(legend_labels, legend_colors)):
        ax.plot([0.8869], [0.9499 - i * 0.0481], "o", ms=7.8, mew=0, color=color,
                transform=ax.transAxes, zorder=6, clip_on=False)
        ax.text(0.9103, 0.9364 - i * 0.0481, label, fontsize=17.8, va="baseline",
                ha="left", transform=ax.transAxes, zorder=6)


def main():
    fig = plt.figure(figsize=(12, 9), dpi=100)
    ax = fig.add_axes([0.10225, 0.1706, 0.8453, 0.6939])

    xs, ys = [], []
    for px, py in ((cloud_x, cloud_y), (core_x, core_y), (tail_x, tail_y)):
        n = min(len(px), len(py))
        xs += px[:n]
        ys += py[:n]
    ax.plot(xs, ys, "o", ms=2.3, mew=0, color="black")
    ax.plot(trend_x, trend_y, color="blue", lw=1.2)

    ax.set_xlim(-1.854, 15.84)
    ax.set_ylim(0.3037, 2.2147)
    ax.set_xticks([0, 5, 10, 15])
    ax.set_yticks([0.5, 1.0, 1.5, 2.0])
    ax.set_yticklabels(["0.5", "1.0", "1.5", "2.0"], rotation=90, va="center")
    ax.tick_params(length=10.8, width=1, labelsize=17.8, direction="out")
    ax.tick_params(axis="x", pad=14.5)
    ax.tick_params(axis="y", pad=12.5)
    for s in ax.spines.values():
        s.set_linewidth(1.0)

    ax.set_xlabel("Average log-expression", fontsize=17.8)
    ax.xaxis.set_label_coords(0.5, -0.173)
    ax.xaxis.label.set_va("center")
    ax.set_ylabel("sqrt(sigma)", fontsize=17.8)
    ax.yaxis.set_label_coords(-0.0976, 0.5)
    ax.yaxis.label.set_va("center")

    draw_legend(ax)

    fig.savefig("out.png", dpi=100)


if __name__ == "__main__":
    main()
